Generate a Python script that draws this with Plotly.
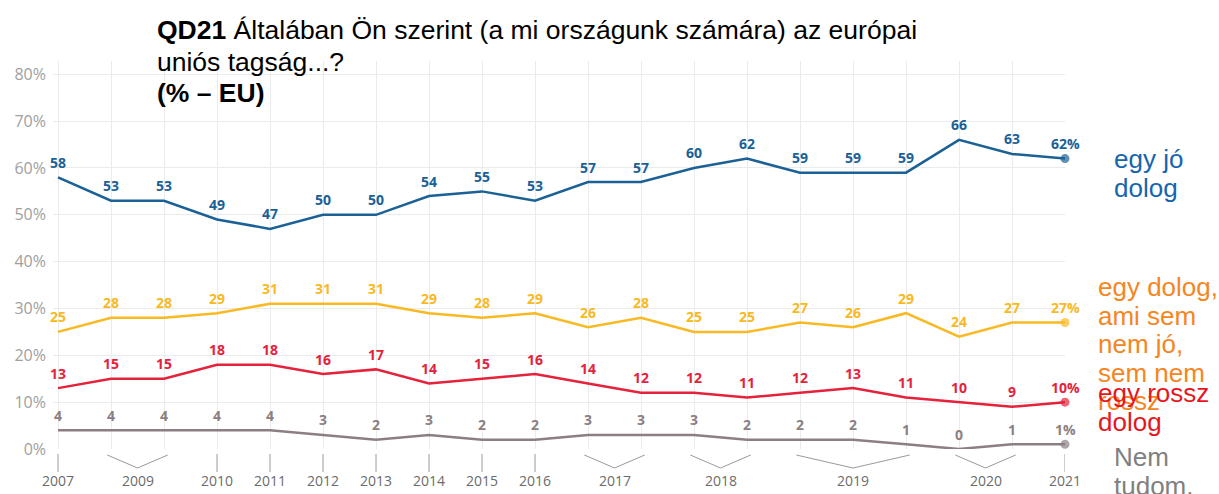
import plotly.graph_objects as go

# ---- data ----
wave_years = ["2007", "2009", "2009", "2010", "2011", "2012", "2013", "2014", "2015", "2016",
              "2017", "2017", "2018", "2018", "2019", "2019", "2019", "2020", "2020", "2021"]
good = [58, 53, 53, 49, 47, 50, 50, 54, 55, 53, 57, 57, 60, 62, 59, 59, 59, 66, 63, 62]
neither = [25, 28, 28, 29, 31, 31, 31, 29, 28, 29, 26, 28, 25, 25, 27, 26, 29, 24, 27, 27]
bad = [13, 15, 15, 18, 18, 16, 17, 14, 15, 16, 14, 12, 12, 11, 12, 13, 11, 10, 9, 10]
dont_know = [4, 4, 4, 4, 4, 3, 2, 3, 2, 2, 3, 3, 3, 2, 2, 2, 1, 0, 1, 1]

series_names = [["egy jó", "dolog"],
                ["egy dolog,", "ami sem", "nem jó,", "sem nem", "rossz"],
                ["egy rossz", "dolog"],
                ["Nem", "tudom."]]
series_values = [good, neither, bad, dont_know]
line_colors = ["#1B6195", "#F9B923", "#E4223B", "#8C7F83"]
legend_colors = ["#1565B0", "#F5861F", "#E5161E", "#808080"]

title_lines = ["<b>QD21</b> Általában Ön szerint (a mi országunk számára) az európai",
               "uniós tagság...?",
               "<b>(% – EU)</b>"]
y_ticks = [0, 10, 20, 30, 40, 50, 60, 70, 80]
y_tick_text = [f"{v}%" for v in y_ticks]

# ---- layout geometry ----
W, H = 1219, 494
ML, MR, MT, MB = 53, 154, 61, 45
PH = H - MT - MB
PW = W - ML - MR


def py(pix):
    """pixel y (from top) -> paper y"""
    return (H - MB - pix) / PH


def px(pix):
    return (pix - ML) / PW


x = list(range(len(wave_years)))
n = len(x)

fig = go.Figure()
annotations = []
for vals, col in zip(series_values, line_colors):
    fig.add_trace(go.Scatter(
        x=x, y=vals, mode="lines+markers",
        line=dict(color=col, width=2.5),
        marker=dict(color=col, size=[0] * (n - 1) + [9], line=dict(width=0)),
        cliponaxis=False, showlegend=False, hoverinfo="skip"))
    for i, v in enumerate(vals):
        annotations.append(dict(
            x=x[i], y=v, xref="x", yref="y",
            text=f"{v}%" if i == n - 1 else str(v),
            showarrow=False, yanchor="middle", yshift=15,
            font=dict(family="Open Sans", size=14, color=col, weight="bold")))

# legend-like labels on the right (one annotation per line)
legend_pos = [(1112, 159), (1096, 287), (1096, 393), (1112, 457)]
line_step = 28.5
for lines, col, (lx, ly) in zip(series_names, legend_colors, legend_pos):
    for k, ln in enumerate(lines):
        annotations.append(dict(
            x=px(lx), y=py(ly + k * line_step), xref="paper", yref="paper",
            xanchor="left", yanchor="middle", align="left",
            text=ln, showarrow=False,
            font=dict(family="Liberation Sans, Arial", size=26, color=col)))

# title (one annotation per line)
title_y = [30, 62, 93]
for ln, ty in zip(title_lines, title_y):
    annotations.append(dict(
        x=px(155), y=py(ty), xref="paper", yref="paper",
        xanchor="left", yanchor="middle", align="left",
        text=ln, showarrow=False,
        font=dict(family="Liberation Sans, Arial", size=26.5, color="#000000")))

# custom x-axis: ticks for single waves, brackets for grouped waves
shapes = []
groups = []
start = 0
for i in range(1, n + 1):
    if i == n or wave_years[i] != wave_years[start]:
        groups.append((wave_years[start], start, i - 1))
        start = i
tick_top, tick_bot = py(454), py(472)
br_top, br_apex = py(455), py(468)
for label, a, b in groups:
    if a == b:
        shapes.append(dict(type="line", xref="x", yref="paper",
                           x0=a, x1=a, y0=tick_top, y1=tick_bot,
                           line=dict(color="#9a9a9a", width=1)))
        cx = a
    else:
        cx = (a + b) / 2
        shapes.append(dict(type="path", xref="x", yref="paper",
                           path=f"M {a - 0.07},{br_top} L {cx},{br_apex} L {b + 0.07},{br_top}",
                           line=dict(color="#9a9a9a", width=1)))
    annotations.append(dict(
        x=cx, y=py(480), xref="x", yref="paper", yanchor="middle",
        text=label, showarrow=False,
        font=dict(family="Open Sans", size=14, color="#6b6b6b")))

fig.update_layout(
    width=W, height=H,
    margin=dict(l=ML, r=MR, t=MT, b=MB, autoexpand=False),
    paper_bgcolor="white", plot_bgcolor="white",
    xaxis=dict(range=[-0.095, 19.0], tickvals=x, showticklabels=False,
               showgrid=True, gridcolor="#ebebeb", gridwidth=1,
               zeroline=False, showline=False, ticks="", automargin=False),
    yaxis=dict(range=[0, 82.84], tickvals=y_ticks, ticktext=y_tick_text,
               showgrid=True, gridcolor="#ebebeb", gridwidth=1,
               zeroline=False, showline=False, ticks="", automargin=False,
               ticklabelstandoff=6,
               tickfont=dict(family="Open Sans", size=16, color="#a0a0a0")),
    annotations=annotations,
    shapes=shapes,
)

fig.write_html("out.html", config={"displayModeBar": False},
               post_script="document.body.style.margin='0';")
